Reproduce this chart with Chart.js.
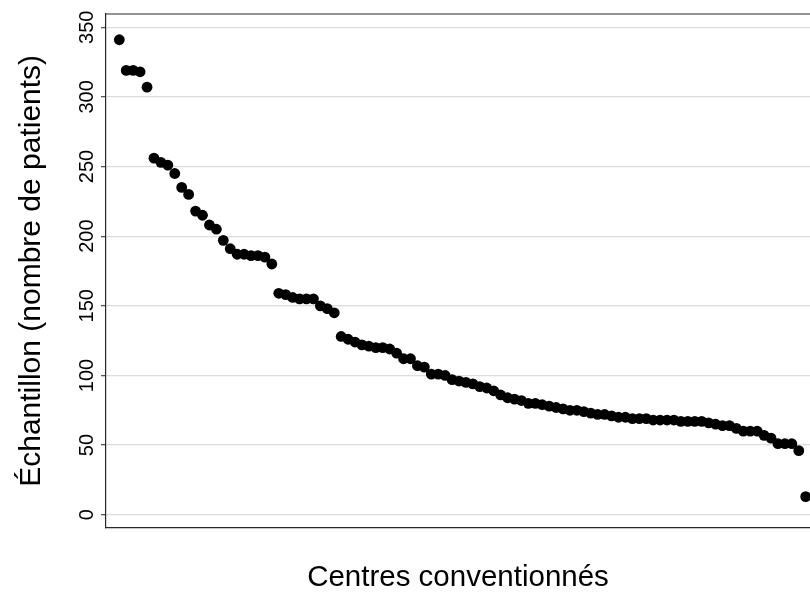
<!DOCTYPE html>
<html lang="fr">
<head>
<meta charset="utf-8">
<title>Échantillon par centre</title>
<script src="https://cdn.jsdelivr.net/npm/chart.js@4"></script>
<style>
  body { margin: 0; background: #fff; }
  canvas { display: block; }
</style>
</head>
<body>
<canvas id="graficoCentres" width="810" height="601"></canvas>
<script>
// nombre de patients par centre, triés par ordre décroissant
const echantillon = [
  341, 319, 319, 318, 307,
  256, 253, 251, 245, 235, 230, 218, 215, 208, 205, 197, 191, 187, 187, 186, 186, 185, 180,
  159, 158, 156, 155, 155, 155, 150, 148, 145,
  128, 126, 124, 122, 121, 120, 120, 119, 116, 112, 112, 107, 106, 101, 101, 100,
  97, 96, 95, 94, 92, 91, 89, 86, 84, 83, 82, 80, 80, 79, 78, 77, 76, 75, 75, 74, 73, 72, 72,
  71, 70, 70, 69, 69, 69, 68, 68, 68, 68, 67, 67, 67, 67, 66, 65, 64, 64, 62, 60, 60, 60,
  57, 55, 51, 51, 51, 46, 13
];
// rang du centre (1 = le plus grand)
const rangs = echantillon.map((v, i) => i + 1);
const ticksY = [0, 50, 100, 150, 200, 250, 300, 350];

const titreX = 'Centres conventionnés';
const titreY = 'Échantillon (nombre de patients)';

const police = '"Liberation Sans", Arial, Helvetica, sans-serif';

// cadre haut du graphique (Chart.js ne dessine que les axes)
const cadreHaut = {
  id: 'cadreHaut',
  afterDraw(chart) {
    const {ctx, chartArea} = chart;
    ctx.save();
    ctx.strokeStyle = '#262626';
    ctx.lineWidth = 1.2;
    ctx.beginPath();
    ctx.moveTo(chartArea.left, chartArea.top);
    ctx.lineTo(chartArea.right, chartArea.top);
    ctx.stroke();
    ctx.restore();
  }
};

const ctx = document.getElementById('graficoCentres').getContext('2d');
new Chart(ctx, {
  type: 'scatter',
  data: {
    datasets: [{
      label: titreY,
      data: rangs.map((r, i) => ({x: r, y: echantillon[i]})),
      backgroundColor: '#000',
      borderWidth: 0,
      pointRadius: 5.4,
      pointHoverRadius: 5.4
    }]
  },
  options: {
    responsive: false,
    animation: false,
    layout: { autoPadding: false, padding: { top: 14, right: 0, bottom: 0, left: 0 } },
    plugins: { legend: { display: false }, tooltip: { enabled: false } },
    scales: {
      x: {
        type: 'linear',
        min: -0.918,
        max: 100.62,
        grid: { display: false, drawTicks: false },
        border: { display: true, color: '#262626', width: 1.2 },
        ticks: { display: false },
        title: {
          display: true, text: titreX, color: '#000',
          font: { family: police, size: 29.5 },
          padding: { top: 30, bottom: 5 }
        },
        afterFit: s => { s.height = 73.3; }
      },
      y: {
        min: -9.3,
        max: 359.5,
        afterBuildTicks: s => { s.ticks = ticksY.map(v => ({value: v})); },
        grid: { color: '#dcdcdc', lineWidth: 1.3, tickLength: 5, tickColor: '#555' },
        border: { display: true, color: '#262626', width: 1.2 },
        ticks: {
          color: '#000',
          font: { family: police, size: 20 },
          minRotation: 90, maxRotation: 90,
          crossAlign: 'center',
          padding: -3
        },
        title: {
          display: true, text: titreY, color: '#000',
          font: { family: police, size: 30 },
          padding: { top: 14, bottom: 0 }
        },
        afterFit: s => { s.width = 106; }
      }
    }
  },
  plugins: [cadreHaut]
});
</script>
</body>
</html>
